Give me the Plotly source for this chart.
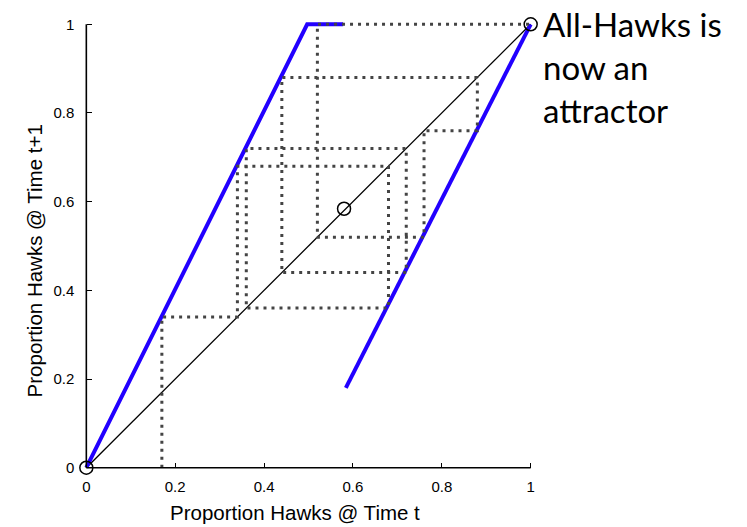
import plotly.graph_objects as go

# Map branches (proportion hawks at t -> t+1)
left_x = [0.0, 0.497, 0.578]
left_y = [0.0, 1.0, 1.0]
right_x = [0.584, 1.0]
right_y = [0.18, 1.0]

# Cobweb orbit values
orbit = [0.17, 0.34, 0.68, 0.36, 0.72, 0.44, 0.88, 0.76, 0.52, 1.0]

# Fixed points
fixed_x = [0.0, 0.58, 1.0]
fixed_y = [0.0, 0.584, 1.0]

tick_vals = [0, 0.2, 0.4, 0.6, 0.8, 1]
tick_text = ["0", "0.2", "0.4", "0.6", "0.8", "1"]

cx = [orbit[0]]
cy = [0.0]
for i in range(len(orbit) - 1):
    cx += [orbit[i], orbit[i + 1]]
    cy += [orbit[i + 1], orbit[i + 1]]

OFF = 8  # page body margin
FW, FH = 747 - OFF, 527 - OFF
PAD = 0.03
L, R = 86 - OFF - PAD * 445, 531 - OFF + PAD * 445
T, B = 24 - OFF - PAD * 444, 468 - OFF + PAD * 444
W, H = R - L, B - T


def px(xp):
    return (xp - OFF - L) / W


def py(yp):
    return (B - (yp - OFF)) / H


fig = go.Figure()
fig.add_trace(go.Scatter(x=[0, 1], y=[0, 1], mode="lines",
                         line=dict(color="black", width=1.3)))
fig.add_trace(go.Scatter(x=left_x, y=left_y, mode="lines",
                         line=dict(color="#2200FF", width=4)))
fig.add_trace(go.Scatter(x=right_x, y=right_y, mode="lines",
                         line=dict(color="#2200FF", width=4)))
fig.add_trace(go.Scatter(x=cx, y=cy, mode="lines",
                         line=dict(color="#444444", width=3, dash="3px,5px")))
fig.add_trace(go.Scatter(x=fixed_x, y=fixed_y, mode="markers",
                         marker=dict(symbol="circle-open", size=13,
                                     color="black", line=dict(width=1.5)),
                         cliponaxis=False))

axis_common = dict(range=[-PAD, 1 + PAD], showgrid=False, zeroline=False,
                   showline=False, automargin=False,
                   ticks="inside", ticklen=5, tickwidth=1.3, tickcolor="black",
                   tickvals=tick_vals, ticktext=tick_text, anchor="free",
                   position=PAD / (1 + 2 * PAD),
                   tickfont=dict(family="Liberation Sans, Arial", size=15, color="black"))

fig.update_layout(
    width=FW, height=FH,
    margin=dict(l=L, r=FW - R, t=T, b=FH - B),
    plot_bgcolor="white", paper_bgcolor="white",
    showlegend=False,
    xaxis=dict(**axis_common, ticklabelstandoff=8),
    yaxis=dict(**axis_common, ticklabelstandoff=12),
)

# axis lines spanning exactly 0..1
fig.add_shape(type="line", xref="x", yref="y", x0=0, x1=1, y0=0, y1=0,
              line=dict(color="black", width=1.6))
fig.add_shape(type="line", xref="x", yref="y", x0=0, x1=0, y0=0, y1=1,
              line=dict(color="black", width=1.6))

fig.add_annotation(xref="paper", yref="paper", x=px(295), y=py(513),
                   text="Proportion Hawks @ Time t", showarrow=False,
                   font=dict(family="Liberation Sans, Arial", size=20.5, color="black"),
                   xanchor="center", yanchor="middle")
fig.add_annotation(xref="paper", yref="paper", x=px(35), y=py(261),
                   text="Proportion Hawks @ Time t+1", showarrow=False, textangle=-90,
                   font=dict(family="Liberation Sans, Arial", size=20.5, color="black"),
                   xanchor="center", yanchor="middle")
fig.add_annotation(xref="paper", yref="paper", x=px(541), y=py(2),
                   text="All-Hawks is<br>now an<br>attractor", showarrow=False,
                   align="left", xanchor="left", yanchor="top",
                   font=dict(family="Lato", size=33, color="black"))

fig.write_html("out.html")
